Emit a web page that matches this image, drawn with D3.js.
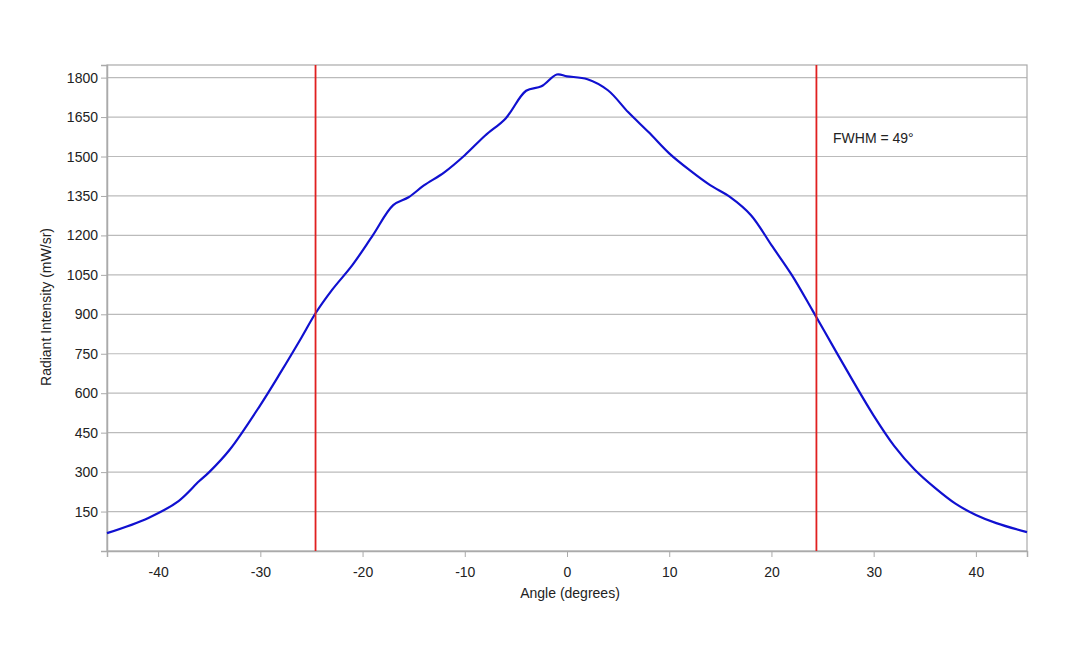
<!DOCTYPE html><html><head><meta charset="utf-8"><script src="https://cdn.jsdelivr.net/npm/d3@7"></script>
<style>body{margin:0;background:#fff}text{font-family:"Liberation Sans",Arial,sans-serif}</style></head><body><svg id="c" width="1080" height="648"></svg><script>
const angles=[-45,-41,-38,-36,-35,-33,-30,-28,-26,-24.6,-23,-21,-19,-17,-15.5,-14,-12,-10,-8,-6,-4,-2.5,-1,0,2,4,6,8,10,12,14,16,18,20,22,24,26,28,30,32,34,36,38,40,42,45];
const intensity=[68,125,190,265,300,385,555,680,810,904,992,1087,1200,1315,1345,1390,1440,1505,1580,1645,1750,1767,1812,1805,1794,1752,1668,1592,1512,1448,1391,1345,1277,1163,1049,916,780,645,515,400,310,240,180,137,106,72];
const yTicks=[150,300,450,600,750,900,1050,1200,1350,1500,1650,1800];
const xTicks=[-40,-30,-20,-10,0,10,20,30,40];
const fwhmLines=[-24.6,24.4];
const svg=d3.select("#c");
const L=107,R=1027,T=65,B=551;
const x=d3.scaleLinear().domain([-45,45]).range([L,R]);
const y=d3.scaleLinear().domain([0,1848]).range([B,T]);
svg.append("g").selectAll("line").data(yTicks).join("line").attr("x1",L).attr("x2",R).attr("y1",d=>y(d)).attr("y2",d=>y(d)).attr("stroke","#bbb").attr("stroke-width",1.2);
svg.append("rect").attr("x",L).attr("y",T).attr("width",R-L).attr("height",B-T).attr("fill","none").attr("stroke","#aaa").attr("stroke-width",1.2);
const gx=svg.append("g").attr("transform",`translate(0,${B})`).call(d3.axisBottom(x).tickValues(xTicks).tickSize(6).tickFormat(d=>String(d)));
const gy=svg.append("g").attr("transform",`translate(${L},0)`).call(d3.axisLeft(y).tickValues(yTicks).tickSize(6).tickFormat(d=>String(d)));
[gx,gy].forEach(g=>{g.select(".domain").attr("stroke","#aaa").attr("stroke-width",1.5);g.selectAll(".tick line").attr("stroke","#aaa");g.selectAll("text").attr("font-size",14).attr("fill","#222").attr("font-family","Liberation Sans, Arial, sans-serif");});
gx.selectAll("text").attr("dy","1.2em");
svg.append("path").datum(angles.map((a,i)=>[a,intensity[i]])).attr("fill","none").attr("stroke","#1010d0").attr("stroke-width",2.2)
 .attr("d",d3.line().x(d=>x(d[0])).y(d=>y(d[1])).curve(d3.curveCatmullRom));
svg.selectAll(".fw").data(fwhmLines).join("line").attr("x1",d=>x(d)).attr("x2",d=>x(d)).attr("y1",T).attr("y2",B).attr("stroke","#e02020").attr("stroke-width",1.8);
svg.append("text").attr("x",833).attr("y",143).attr("font-size",14).attr("fill","#222").text("FWHM = 49°");
svg.append("text").attr("x",570).attr("y",598).attr("text-anchor","middle").attr("font-size",14).attr("fill","#222").text("Angle (degrees)");
svg.append("text").attr("transform","translate(51,307) rotate(-90)").attr("text-anchor","middle").attr("font-size",14).attr("fill","#222").text("Radiant Intensity (mW/sr)");
</script></body></html>
